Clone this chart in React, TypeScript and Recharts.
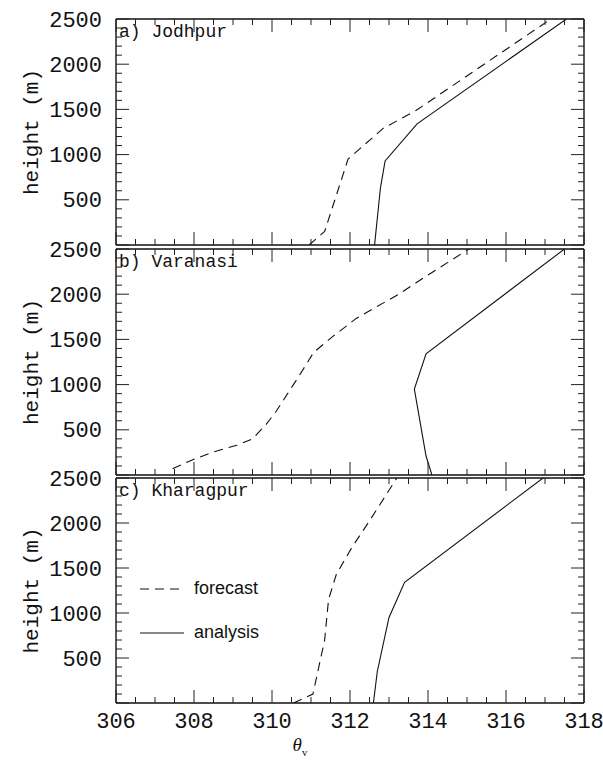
import { LineChart, Line, XAxis, YAxis, Label } from "recharts";

// tick labels
const xTickLabels = [306, 308, 310, 312, 314, 316, 318];
const yTickLabels = [500, 1000, 1500, 2000, 2500];
const xMinorTicks = Array.from({ length: 25 }, (_, i) => 306 + i * 0.5);
const yMinorTicks = Array.from({ length: 26 }, (_, i) => i * 100);
const yMajorTicks = [0, ...yTickLabels];

// a) Jodhpur
const jodhpurForecastTheta = [310.95, 311.35, 311.95, 312.85, 313.7, 317.15];
const jodhpurForecastHeight = [0, 150, 950, 1290, 1490, 2500];
const jodhpurAnalysisTheta = [312.63, 312.78, 312.9, 313.72, 317.55];
const jodhpurAnalysisHeight = [0, 630, 930, 1340, 2500];

// b) Varanasi
const varanasiForecastTheta = [307.45, 308.0, 308.5, 309.1, 309.5, 309.85, 310.1, 310.4, 310.7, 311.07, 311.57, 312.16, 313.25, 313.94, 315.05];
const varanasiForecastHeight = [70, 175, 255, 330, 400, 560, 700, 900, 1100, 1357, 1536, 1732, 2000, 2196, 2500];
const varanasiAnalysisTheta = [314.1, 313.95, 313.65, 313.95, 317.5];
const varanasiAnalysisHeight = [0, 210, 950, 1340, 2500];

// c) Kharagpur
const kharagpurForecastTheta = [310.55, 311.05, 311.35, 311.45, 311.65, 312.05, 312.45, 313.2];
const kharagpurForecastHeight = [0, 100, 700, 1150, 1430, 1730, 1990, 2500];
const kharagpurAnalysisTheta = [312.6, 312.7, 313.0, 313.4, 316.95];
const kharagpurAnalysisHeight = [0, 350, 950, 1340, 2500];

const toPoints = (theta: number[], height: number[]) =>
  theta.map((t, i) => ({ t, h: height[i] }));

const INK = "#111";
const MONO = "'Liberation Mono', 'DejaVu Sans Mono', monospace";
const W = 603;
const PLOT_LEFT = 116;
const PLOT_RIGHT = 584;
const X_MIN = 306;
const X_MAX = 318;
const Y_MAX = 2500;
const MAJOR = 13;
const MINOR = 6;

type Pt = { t: number; h: number };

const xLabelTick = (props: any) => {
  const { x, payload } = props;
  const v = payload.value;
  if (!xTickLabels.includes(v)) return <g />;
  return (
    <text x={x} y={props.y + 19} textAnchor="middle" dominantBaseline="central"
      fontFamily={MONO} fontSize={22} fill={INK}>
      {v}
    </text>
  );
};

const yLabelTick = (props: any) => {
  const { y, payload } = props;
  const v = payload.value;
  if (!yTickLabels.includes(v)) return <g />;
  return (
    <text x={PLOT_LEFT - 14} y={y + 2} textAnchor="end" dominantBaseline="central"
      fontFamily={MONO} fontSize={22} fill={INK}>
      {v}
    </text>
  );
};

const heightLabel = (props: any) => {
  const { viewBox } = props;
  const cy = viewBox.y + viewBox.height / 2;
  return (
    <text x={32} y={cy} transform={`rotate(-90, 32, ${cy})`} textAnchor="middle"
      dominantBaseline="central" fontFamily={MONO} fontSize={21} fill={INK}>
      height (m)
    </text>
  );
};

const thetaLabel = (props: any) => {
  const { viewBox } = props;
  return (
    <text x={300} y={viewBox.y + 48} textAnchor="middle" fontFamily="'Liberation Serif', serif"
      fontSize={19} fill={INK}>
      <tspan fontStyle="italic">θ</tspan>
      <tspan fontSize={11} dy={5}>v</tspan>
    </text>
  );
};

const frame = { stroke: INK, strokeWidth: 1.4 };

// inward tick marks on all four sides of a panel frame
function TickMarks({ height, plotTop, plotBottom }: { height: number; plotTop: number; plotBottom: number }) {
  const sx = (v: number) => PLOT_LEFT + ((v - X_MIN) / (X_MAX - X_MIN)) * (PLOT_RIGHT - PLOT_LEFT);
  const sy = (v: number) => plotBottom - (v / Y_MAX) * (plotBottom - plotTop);
  return (
    <svg width={W} height={height}
      style={{ position: "absolute", left: 0, top: 0, pointerEvents: "none" }}>
      <g stroke="#222" strokeWidth={1}>
        {xMinorTicks.map((v) => {
          const len = xTickLabels.includes(v) ? MAJOR : MINOR;
          const x = sx(v);
          return (
            <g key={`x${v}`}>
              <line x1={x} y1={plotBottom} x2={x} y2={plotBottom - len} />
              <line x1={x} y1={plotTop} x2={x} y2={plotTop + len} />
            </g>
          );
        })}
        {yMinorTicks.map((v) => {
          const len = v % 500 === 0 ? MAJOR : MINOR;
          const y = sy(v);
          return (
            <g key={`y${v}`}>
              <line x1={PLOT_LEFT} y1={y} x2={PLOT_LEFT + len} y2={y} />
              <line x1={PLOT_RIGHT} y1={y} x2={PLOT_RIGHT - len} y2={y} />
            </g>
          );
        })}
      </g>
    </svg>
  );
}

interface PanelProps {
  top: number;
  height: number;
  plotTop: number;
  plotBottom: number;
  title: string;
  forecast: Pt[];
  analysis: Pt[];
  last?: boolean;
}

function Panel({ top, height, plotTop, plotBottom, title, forecast, analysis, last }: PanelProps) {
  return (
    <div style={{ position: "absolute", left: 0, top, width: W, height }}>
      <LineChart width={W} height={height}
        margin={{ top: plotTop - 1, bottom: height - plotBottom - 1, left: PLOT_LEFT - 1, right: W - PLOT_RIGHT - 1 }}>
        <XAxis xAxisId="b" type="number" dataKey="t" domain={[X_MIN, X_MAX]} ticks={xTickLabels}
          interval={0} height={1} tickSize={0} tickMargin={0} tickLine={false} axisLine={frame}
          tick={last ? xLabelTick : false} allowDataOverflow>
          {last && <Label content={thetaLabel} />}
        </XAxis>
        <XAxis xAxisId="t" orientation="top" type="number" dataKey="t" domain={[X_MIN, X_MAX]}
          height={1} tickLine={false} tick={false} axisLine={frame} allowDataOverflow />
        <YAxis yAxisId="l" type="number" domain={[0, Y_MAX]} ticks={yMajorTicks} interval={0}
          width={1} tickSize={0} tickMargin={0} tickLine={false} axisLine={frame}
          tick={yLabelTick} allowDataOverflow>
          <Label content={heightLabel} />
        </YAxis>
        <YAxis yAxisId="r" orientation="right" type="number" domain={[0, Y_MAX]} width={1}
          tickLine={false} tick={false} axisLine={frame} allowDataOverflow />
        <Line xAxisId="b" yAxisId="l" data={forecast} dataKey="h" type="linear" dot={false}
          stroke={INK} strokeWidth={1.1} strokeDasharray="9 6" isAnimationActive={false} />
        <Line xAxisId="b" yAxisId="l" data={analysis} dataKey="h" type="linear" dot={false}
          stroke={INK} strokeWidth={1.1} isAnimationActive={false} />
      </LineChart>
      <TickMarks height={height} plotTop={plotTop} plotBottom={plotBottom} />
      <div style={{ position: "absolute", left: 119, top: plotTop + 2, fontFamily: MONO,
        fontSize: 18, color: INK, lineHeight: "22px" }}>
        {title}
      </div>
    </div>
  );
}

function LegendBox() {
  const row = (dash: string | undefined, text: string, top: number) => (
    <div style={{ position: "absolute", left: 140, top, display: "flex", alignItems: "center" }}>
      <svg width={44} height={10}>
        <line x1={0} y1={5} x2={44} y2={5} stroke={INK} strokeWidth={1.1} strokeDasharray={dash} />
      </svg>
      <span style={{ marginLeft: 10, fontFamily: "'Liberation Sans', Arial, sans-serif",
        fontSize: 18, color: INK }}>
        {text}
      </span>
    </div>
  );
  return (
    <>
      {row("9 6", "forecast", 578)}
      {row(undefined, "analysis", 622)}
    </>
  );
}

export default function App() {
  return (
    <div style={{ position: "absolute", left: 0, top: 0, width: W, height: 765, background: "#fff" }}>
      <Panel top={0} height={255} plotTop={19} plotBottom={245} title="a) Jodhpur"
        forecast={toPoints(jodhpurForecastTheta, jodhpurForecastHeight)}
        analysis={toPoints(jodhpurAnalysisTheta, jodhpurAnalysisHeight)} />
      <Panel top={234} height={251} plotTop={15} plotBottom={241} title="b) Varanasi"
        forecast={toPoints(varanasiForecastTheta, varanasiForecastHeight)}
        analysis={toPoints(varanasiAnalysisTheta, varanasiAnalysisHeight)} />
      <Panel top={462} height={303} plotTop={16} plotBottom={241} title="c) Kharagpur" last
        forecast={toPoints(kharagpurForecastTheta, kharagpurForecastHeight)}
        analysis={toPoints(kharagpurAnalysisTheta, kharagpurAnalysisHeight)} />
      <LegendBox />
    </div>
  );
}
